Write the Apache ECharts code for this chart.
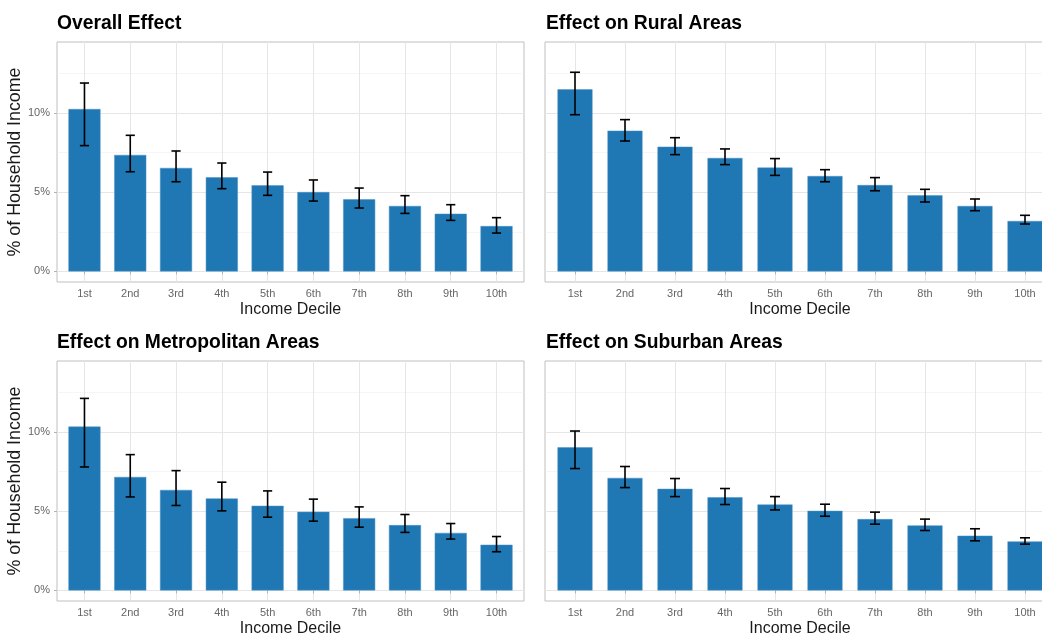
<!DOCTYPE html>
<html>
<head>
<meta charset="utf-8">
<script src="https://cdn.jsdelivr.net/npm/echarts@6/dist/echarts.min.js"></script>
<style>
html,body{margin:0;padding:0;background:#fff;}
#chart{width:1042px;height:636px;}
</style>
</head>
<body>
<div id="chart"></div>
<script>
const categories = ['1st','2nd','3rd','4th','5th','6th','7th','8th','9th','10th'];
const titles = ['Overall Effect','Effect on Rural Areas','Effect on Metropolitan Areas','Effect on Suburban Areas'];

const overall   = [10.25, 7.35, 6.53, 5.94, 5.43, 5.01, 4.55, 4.13, 3.64, 2.86];
const overallLo = [7.94, 6.29, 5.66, 5.22, 4.80, 4.44, 4.00, 3.66, 3.22, 2.42];
const overallHi = [11.89, 8.59, 7.60, 6.84, 6.27, 5.77, 5.26, 4.78, 4.21, 3.39];

const rural   = [11.49, 8.88, 7.87, 7.16, 6.55, 6.02, 5.45, 4.80, 4.13, 3.18];
const ruralLo = [9.89, 8.23, 7.37, 6.74, 6.06, 5.66, 5.09, 4.38, 3.83, 2.99];
const ruralHi = [12.57, 9.58, 8.44, 7.73, 7.12, 6.42, 5.92, 5.18, 4.57, 3.54];

const metro   = [10.34, 7.16, 6.34, 5.80, 5.34, 4.96, 4.56, 4.12, 3.63, 2.88];
const metroLo = [7.79, 5.90, 5.36, 5.02, 4.62, 4.37, 3.99, 3.66, 3.24, 2.44];
const metroHi = [12.12, 8.57, 7.56, 6.83, 6.28, 5.76, 5.27, 4.79, 4.22, 3.40];

const suburban   = [9.03, 7.10, 6.41, 5.88, 5.42, 5.02, 4.50, 4.10, 3.45, 3.09];
const suburbanLo = [7.69, 6.49, 5.92, 5.42, 5.08, 4.68, 4.18, 3.78, 3.13, 2.92];
const suburbanHi = [10.06, 7.82, 7.06, 6.43, 5.92, 5.44, 4.94, 4.50, 3.89, 3.32];

const yMajorTicks = [0, 5, 10];
const yMinorTicks = [2.5, 7.5, 12.5];
const xAxisTitle = 'Income Decile';
const yAxisTitle = '% of Household Income';

const panels = [
  {vals: overall, lo: overallLo, hi: overallHi},
  {vals: rural, lo: ruralLo, hi: ruralHi},
  {vals: metro, lo: metroLo, hi: metroHi},
  {vals: suburban, lo: suburbanLo, hi: suburbanHi}
];

const FONT = 'Liberation Sans, Arial, sans-serif';
const gridPos = [
  {left: 57, top: 42, width: 467, height: 240},
  {left: 545, top: 42, width: 510, height: 240},
  {left: 57, top: 361, width: 467, height: 240},
  {left: 545, top: 361, width: 510, height: 240}
];
const titlePos = [
  {left: 57, top: 14}, {left: 546, top: 14}, {left: 57, top: 333}, {left: 546, top: 333}
];
const xPositions = categories.map((c, i) => i + 1);

const option = {
  animation: false,
  backgroundColor: '#fff',
  title: titles.map((t, i) => ({
    text: t, left: titlePos[i].left, top: titlePos[i].top, padding: 0,
    textStyle: {fontFamily: FONT, fontWeight: 'bold', fontSize: 19.3, color: '#000'}
  })),
  grid: gridPos.map(g => Object.assign({show: true, borderColor: '#bfbfbf', borderWidth: 1,
    backgroundColor: 'transparent', containLabel: false, outerBoundsMode: 'none'}, g)),
  xAxis: gridPos.map((g, i) => ({
    type: 'value', gridIndex: i, min: 0.4, max: 10.6,
    name: xAxisTitle, nameLocation: 'middle', nameGap: 20,
    nameTextStyle: {fontFamily: FONT, fontSize: 16, color: '#1a1a1a'},
    axisLine: {show: false},
    axisTick: {show: true, length: 3, customValues: xPositions, lineStyle: {color: '#b3b3b3', width: 1}},
    axisLabel: {customValues: xPositions, formatter: v => categories[Math.round(v) - 1], margin: 6,
      fontFamily: FONT, fontSize: 11, color: '#666'},
    splitLine: {show: true, lineStyle: {color: '#e6e6e6', width: 1}}
  })),
  yAxis: [].concat(...gridPos.map((g, i) => {
    const left = (i % 2 === 0);
    return [{
      type: 'value', gridIndex: i, min: -0.67, max: 14.48,
      name: left ? yAxisTitle : '', nameLocation: 'middle', nameGap: 28,
      nameTextStyle: {fontFamily: FONT, fontSize: 17.8, color: '#1a1a1a'},
      axisLine: {show: false},
      axisTick: {show: left, length: 3, customValues: yMajorTicks, lineStyle: {color: '#b3b3b3', width: 1}},
      axisLabel: {show: left, customValues: yMajorTicks, formatter: v => v + '%', margin: 7,
        fontFamily: FONT, fontSize: 11, color: '#666'},
      splitLine: {show: true, lineStyle: {color: '#e6e6e6', width: 1}}
    }, {
      type: 'value', gridIndex: i, min: -0.67, max: 14.48, position: 'left',
      axisLine: {show: false},
      axisTick: {show: false, customValues: yMinorTicks},
      axisLabel: {show: false},
      splitLine: {show: true, lineStyle: {color: '#f0f0f0', width: 0.6}}
    }];
  })),
  series: [].concat(...panels.map((p, i) => [{
    type: 'bar', xAxisIndex: i, yAxisIndex: 2 * i,
    barWidth: '70%',
    itemStyle: {color: '#1f77b4', borderColor: '#4a93c6', borderWidth: 0.5},
    data: p.vals.map((v, k) => [xPositions[k], v]),
    z: 2
  }, {
    type: 'custom', xAxisIndex: i, yAxisIndex: 2 * i,
    data: p.vals.map((v, k) => [xPositions[k], p.lo[k], p.hi[k]]),
    z: 3,
    renderItem: function (params, api) {
      const x = api.value(0), lo = api.value(1), hi = api.value(2);
      const top = api.coord([x, hi]);
      const bot = api.coord([x, lo]);
      const half = api.size([0.1, 0])[0];
      const style = {stroke: '#000', lineWidth: 1.6, fill: null};
      return {
        type: 'group',
        children: [
          {type: 'line', shape: {x1: top[0], y1: top[1], x2: bot[0], y2: bot[1]}, style: style},
          {type: 'line', shape: {x1: top[0] - half, y1: top[1], x2: top[0] + half, y2: top[1]}, style: style},
          {type: 'line', shape: {x1: bot[0] - half, y1: bot[1], x2: bot[0] + half, y2: bot[1]}, style: style}
        ]
      };
    }
  }]))
};

const chart = echarts.init(document.getElementById('chart'), null, {renderer: 'canvas'});
chart.setOption(option);
</script>
</body>
</html>
